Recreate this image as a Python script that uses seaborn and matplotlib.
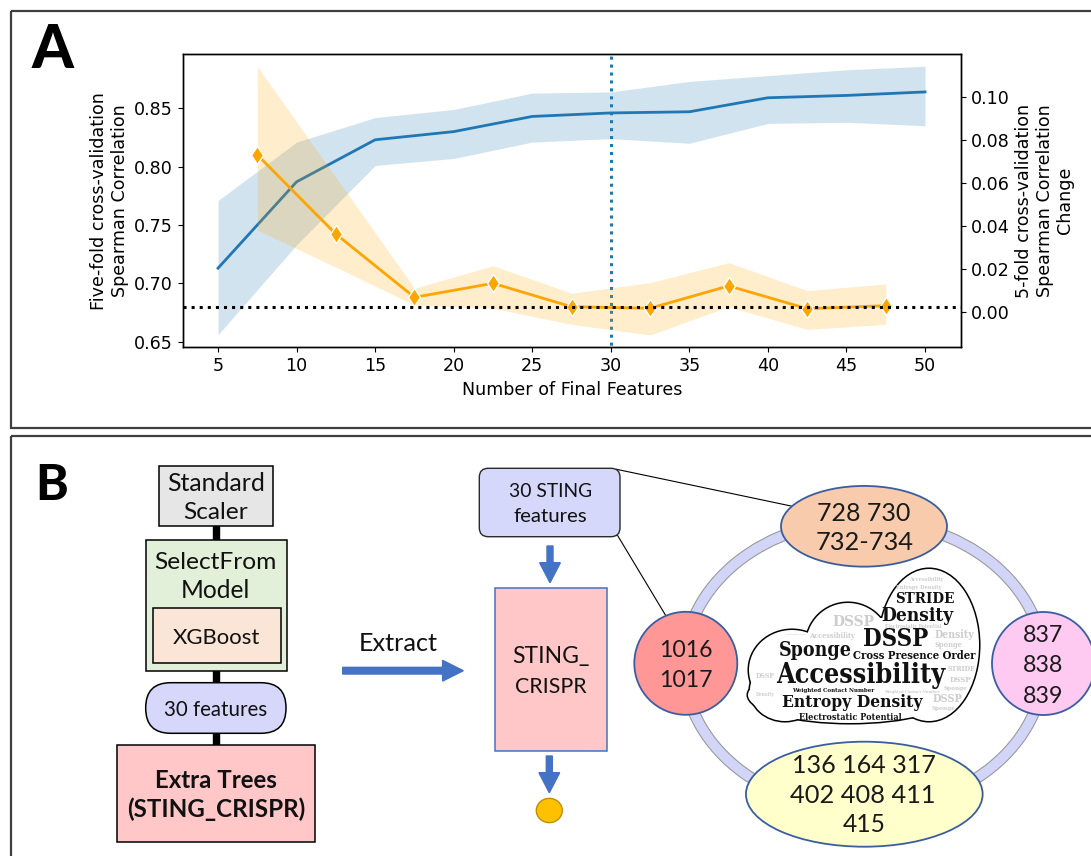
import os
import matplotlib
matplotlib.use("Agg")
import matplotlib.pyplot as plt
import numpy as np
import pandas as pd
import seaborn as sns
from matplotlib import font_manager as fm
from matplotlib.patches import Rectangle, FancyBboxPatch, Ellipse, FancyArrow

# ---------------- data: feature-count sweep ----------------
n_features = [5, 10, 15, 20, 25, 30, 35, 40, 45, 50]
corr_mean = [0.713, 0.787, 0.823, 0.830, 0.843, 0.846, 0.847, 0.859, 0.861, 0.864]
corr_low = [0.656, 0.733, 0.801, 0.807, 0.821, 0.824, 0.820, 0.837, 0.838, 0.835]
corr_high = [0.771, 0.821, 0.842, 0.849, 0.863, 0.864, 0.873, 0.878, 0.883, 0.886]

step_mid = [7.5, 12.5, 17.5, 22.5, 27.5, 32.5, 37.5, 42.5, 47.5]
change_mean = [0.0729, 0.0361, 0.0067, 0.0132, 0.0023, 0.0016, 0.0120, 0.0014, 0.0028]
change_low = [0.0380, 0.0207, 0.0031, 0.0016, -0.0059, -0.0108, 0.0023, -0.0082, -0.0059]
change_high = [0.1140, 0.0625, 0.0109, 0.0214, 0.0086, 0.0135, 0.0228, 0.0098, 0.0129]

selected_n = 30
change_threshold = 0.002

left_ticks = [0.65, 0.70, 0.75, 0.80, 0.85]
right_ticks = [0.00, 0.02, 0.04, 0.06, 0.08, 0.10]
x_ticks = [5, 10, 15, 20, 25, 30, 35, 40, 45, 50]

# ---------------- data: pipeline / feature groups ----------------
pipeline_steps = ["Standard\nScaler", "SelectFrom\nModel", "XGBoost", "30 features",
                  "Extra Trees\n(STING_CRISPR)"]
sting_groups = ["728 730\n732-734", "1016\n1017", "837\n838\n839",
                "136 164 317\n402 408 411\n415"]
cloud_words = ["STRIDE", "Density", "DSSP", "Sponge", "Cross Presence Order",
               "Accessibility", "Weighted Contact Number", "Entropy Density",
               "Electrostatic Potential"]


def long_form(x, lo, mid, hi):
    rows = []
    for xi, a, b, c in zip(x, lo, mid, hi):
        for v in (a, b, c):
            rows.append((xi, v))
    return pd.DataFrame(rows, columns=["n", "value"])


corr_df = long_form(n_features, corr_low, corr_mean, corr_high)
change_df = long_form(step_mid, change_low, change_mean, change_high)


def find_font(keys, family, weight):
    for f in fm.fontManager.ttflist:
        name = os.path.basename(f.fname).lower()
        if all(k in name for k in keys) and "italic" not in name and "oblique" not in name:
            return fm.FontProperties(fname=f.fname)
    return fm.FontProperties(family=family, weight=weight)


cloud_font = find_font(["serif", "condensed", "bold"], "Liberation Serif", "bold")
sans_font = fm.FontProperties(family="Lato")
sans_bold = fm.FontProperties(family="Lato", weight="bold")
letter_font = fm.FontProperties(family="Lato", weight="black")

W, H = 1091, 856
fig = plt.figure(figsize=(W / 100, H / 100), dpi=100)
fig.patch.set_facecolor("white")

# full-figure canvas in pixel units for the framing and the diagram
canvas = fig.add_axes([0, 0, 1, 1], zorder=0)
canvas.set_xlim(0, W)
canvas.set_ylim(H, 0)
canvas.axis("off")
renderer = fig.canvas.get_renderer()


def fit_text(x, y, s, width, fp, **kw):
    t = canvas.text(x, y, s, ha="center", va="baseline", fontproperties=fp.copy(), **kw)
    t.set_fontsize(20)
    w = t.get_window_extent(renderer).width
    t.set_fontsize(20 * width / w)
    return t


# panel frames
frame_kw = dict(fill=False, edgecolor="#404040", linewidth=1.6, zorder=1)
canvas.add_patch(Rectangle((10.7, 11), 1100, 416.7, **frame_kw))
canvas.add_patch(Rectangle((10.7, 435.7), 1100, 440, **frame_kw))
fit_text(52.3, 68, "A", 42, letter_font, zorder=5)
fit_text(51.7, 500, "B", 33, letter_font, zorder=5)

# ---------------- panel A ----------------
ax = fig.add_axes([182.7 / W, 1 - 347.3 / H, 778 / W, 293.3 / H], zorder=2)
ax.set_facecolor("white")
sns.lineplot(data=corr_df, x="n", y="value", estimator="median",
             errorbar=("pi", 100), color="#1f77b4", linewidth=2.0,
             err_kws={"linewidth": 0}, ax=ax)
ax.axvline(selected_n, color="#1f77b4", linestyle=(2, (1, 1.6)), linewidth=2.2)

ax2 = ax.twinx()
sns.lineplot(data=change_df, x="n", y="value", estimator="median",
             errorbar=("pi", 100), color="orange", linewidth=2.0,
             marker="d", markersize=9.5, markeredgecolor="white",
             markeredgewidth=1.0, err_kws={"linewidth": 0}, ax=ax2)
ax2.axhline(change_threshold, color="black", linestyle=":", linewidth=2.2, zorder=5)

ax.set_xlim(2.75, 52.27)
ax.set_ylim(0.6452, 0.8965)
ax2.set_ylim(-0.01656, 0.11986)
ax.set_xticks(x_ticks)
ax.set_yticks(left_ticks)
ax2.set_yticks(right_ticks)
ax.yaxis.set_major_formatter(matplotlib.ticker.FormatStrFormatter("%.2f"))
ax2.yaxis.set_major_formatter(matplotlib.ticker.FormatStrFormatter("%.2f"))

fs = 12.6
ax.set_xlabel("Number of Final Features", fontsize=fs)
ax.set_ylabel("Five-fold cross-validation\nSpearman Correlation", fontsize=fs)
ax2.set_ylabel("5-fold cross-validation\nSpearman Correlation\nChange", fontsize=fs)
ax.tick_params(labelsize=fs)
ax2.tick_params(labelsize=fs)
for a in (ax, ax2):
    for sp in a.spines.values():
        sp.set_linewidth(1.0)

# ---------------- panel B: pipeline ----------------
edge = "black"
WF = 1.07  # width allowance for the body face
canvas.add_patch(Rectangle((212.8, 526), 6.6, 14, color="black", zorder=2))
canvas.add_patch(Rectangle((212.8, 670), 6.6, 13, color="black", zorder=2))
canvas.add_patch(Rectangle((212.8, 733), 6.6, 12, color="black", zorder=2))

canvas.add_patch(Rectangle((158.7, 466), 114.6, 60, facecolor="#e7e6e6",
                           edgecolor=edge, linewidth=1.1, zorder=3))
canvas.add_patch(Rectangle((145.7, 540), 141, 130.7, facecolor="#e2efd9",
                           edgecolor=edge, linewidth=1.1, zorder=3))
canvas.add_patch(Rectangle((153.3, 608.3), 127.7, 55, facecolor="#fbe5d6",
                           edgecolor=edge, linewidth=1.1, zorder=4))
canvas.add_patch(FancyBboxPatch((145.7, 682.7), 140.3, 50.6,
                                boxstyle="round,pad=0,rounding_size=25",
                                facecolor="#d6d7fb", edgecolor=edge,
                                linewidth=1.1, zorder=3))
canvas.add_patch(Rectangle((117.3, 744.7), 198, 97.6, facecolor="#ffc7c7",
                           edgecolor=edge, linewidth=1.1, zorder=3))

std_l1, std_l2 = pipeline_steps[0].split("\n")
sel_l1, sel_l2 = pipeline_steps[1].split("\n")
et_l1, et_l2 = pipeline_steps[4].split("\n")
tk = dict(color="#111111", zorder=6)
fit_text(215.8, 490.7, std_l1, 91.7 * WF, sans_font, **tk)
fit_text(215.8, 519.3, std_l2, 60.3 * WF, sans_font, **tk)
fit_text(215.8, 569.3, sel_l1, 114.3 * WF, sans_font, **tk)
fit_text(215.8, 598.3, sel_l2, 65 * WF, sans_font, **tk)
fit_text(216.7, 644.3, pipeline_steps[2], 81.3 * WF, sans_font, **tk)
fit_text(216.0, 715.7, pipeline_steps[3], 96.7 * WF, sans_font, **tk)
fit_text(216.3, 787.7, et_l1, 114 * WF, sans_bold, **tk)
fit_text(216.3, 816.7, et_l2, 166 * WF, sans_bold, **tk)

arrow_c = "#4472c4"
fit_text(398, 651, "Extract", 74 * WF, sans_font, **tk)
canvas.add_patch(FancyArrow(342.7, 670.7, 120.6, 0, width=6.7, head_width=20.7,
                            head_length=20.7, length_includes_head=True,
                            color=arrow_c, zorder=3))

# STING feature box and model
canvas.add_patch(FancyBboxPatch((479.3, 468.3), 140.7, 68.4,
                                boxstyle="round,pad=0,rounding_size=9",
                                facecolor="#d5d7fb", edgecolor="#2a2a2a",
                                linewidth=1.0, zorder=3))
fit_text(550.5, 497.3, "30 STING", 77.7 * WF, sans_font, **tk)
fit_text(550.5, 521.7, "features", 69 * WF, sans_font, **tk)
canvas.add_patch(FancyArrow(550, 546, 0, 36.7, width=6, head_width=20.7,
                            head_length=20, length_includes_head=True,
                            color=arrow_c, zorder=3))
canvas.add_patch(Rectangle((495, 588.3), 111.7, 162.4, facecolor="#ffc7c7",
                           edgecolor=arrow_c, linewidth=1.1, zorder=3))
fit_text(550.8, 663.3, "STING_", 71.7 * WF, sans_font, **tk)
fit_text(550.7, 692.7, "CRISPR", 66.7 * WF, sans_font, **tk)
canvas.add_patch(FancyArrow(549.3, 756, 0, 36.7, width=6, head_width=20.7,
                            head_length=20, length_includes_head=True,
                            color=arrow_c, zorder=3))
canvas.add_patch(Ellipse((549.3, 810.5), 26, 24.3, facecolor="#ffc000",
                         edgecolor="#bf9000", linewidth=1.0, zorder=3))

# connector lines to the feature ring
canvas.plot([616.5, 791], [469.3, 506], color="black", linewidth=0.8, zorder=2)
canvas.plot([616.7, 666], [534, 616], color="black", linewidth=0.8, zorder=2)

# ring of residue groups
ring_c, ring_w, ring_h = (864, 665), 360, 290
canvas.add_patch(Ellipse(ring_c, ring_w, ring_h, fill=False, edgecolor="#9a9a9a",
                         linewidth=8.6, zorder=2))
canvas.add_patch(Ellipse(ring_c, ring_w, ring_h, fill=False, edgecolor="#d3d5f8",
                         linewidth=7.0, zorder=2.1))

node_edge = "#3a5da0"
canvas.add_patch(Ellipse((864, 526.3), 166, 80.7, facecolor="#f8cbad",
                         edgecolor=node_edge, linewidth=1.3, zorder=3))
canvas.add_patch(Ellipse((685.8, 663.3), 103, 103, facecolor="#ff9797",
                         edgecolor=node_edge, linewidth=1.3, zorder=3))
canvas.add_patch(Ellipse((1043.5, 663.5), 103, 103, facecolor="#ffcaf2",
                         edgecolor=node_edge, linewidth=1.3, zorder=3))
canvas.add_patch(Ellipse((864.3, 794.2), 236.7, 105, facecolor="#ffffcc",
                         edgecolor=node_edge, linewidth=1.3, zorder=3))

nk = dict(color="#1a1a1a", zorder=6)
g0 = sting_groups[0].split("\n")
fit_text(864, 520.7, g0[0], 87.3 * WF, sans_font, **nk)
fit_text(864.3, 550, g0[1], 91.3 * WF, sans_font, **nk)
g1 = sting_groups[1].split("\n")
fit_text(685.7, 656.7, g1[0], 50 * WF, sans_font, **nk)
fit_text(685.7, 686.7, g1[1], 50 * WF, sans_font, **nk)
g2 = sting_groups[2].split("\n")
for s, yb in zip(g2, [642, 672.3, 703.3]):
    fit_text(1043.2, yb, s, 37.7 * WF, sans_font, **nk)
g3 = sting_groups[3].split("\n")
fit_text(864.3, 773.3, g3[0], 134.7 * WF, sans_font, **nk)
fit_text(863.0, 802.7, g3[1], 136 * WF, sans_font, **nk)
fit_text(864.3, 832.3, g3[2], 40 * WF, sans_font, **nk)

# word cloud outline: union of overlapping lobes
lobes = [((929, 645), 100, 152), ((848, 645), 84, 84), ((792, 670), 86, 80),
         ((850, 695), 204, 56), ((880, 668), 130, 100), ((785, 690), 70, 62)]
for c, w, h in lobes:
    canvas.add_patch(Ellipse(c, w, h, facecolor="black", edgecolor="black",
                             linewidth=2.2, zorder=3))
for c, w, h in lobes:
    canvas.add_patch(Ellipse(c, w, h, facecolor="white", edgecolor="none",
                             zorder=3.2))

faint = [("Entropy Density", 919.3, 589.3, 46), ("Accessibility", 926, 580.5, 34),
         ("DSSP", 853.5, 626, 42), ("Electrostatic Potential", 913, 627.5, 56),
         ("Accessibility", 832, 638.3, 46), ("Density", 954, 638.3, 40),
         ("Sponge", 948, 647.2, 28), ("STRIDE", 962, 671, 28),
         ("DSSP", 960, 681.5, 22), ("Sponge", 956, 690, 24),
         ("DSSP", 947, 702, 30), ("Sponge", 944, 710, 24),
         ("Density", 765, 696, 19), ("DSSP", 765, 677.5, 19),
         ("Cross Presence Order", 796, 635, 19),
         ("Weighted Contact Number", 912, 692.5, 56)]
for s, x, y, w in faint:
    fit_text(x, y, s, w, cloud_font, color="#cdcdcd", zorder=4)

placements = [(924.7, 603.3, 59.3), (917.7, 620.7, 72), (895.2, 645.7, 65),
              (815.2, 655.7, 73), (913.8, 659.3, 122.3), (860.5, 683.3, 169),
              (833.5, 692.3, 81.7), (852.2, 707.3, 141), (850.2, 720, 101.7)]
for s, (x, y, w) in zip(cloud_words, placements):
    fit_text(x, y, s, w, cloud_font, color="#111111", zorder=4.5)

fig.savefig("out.png", dpi=100, facecolor="white")
